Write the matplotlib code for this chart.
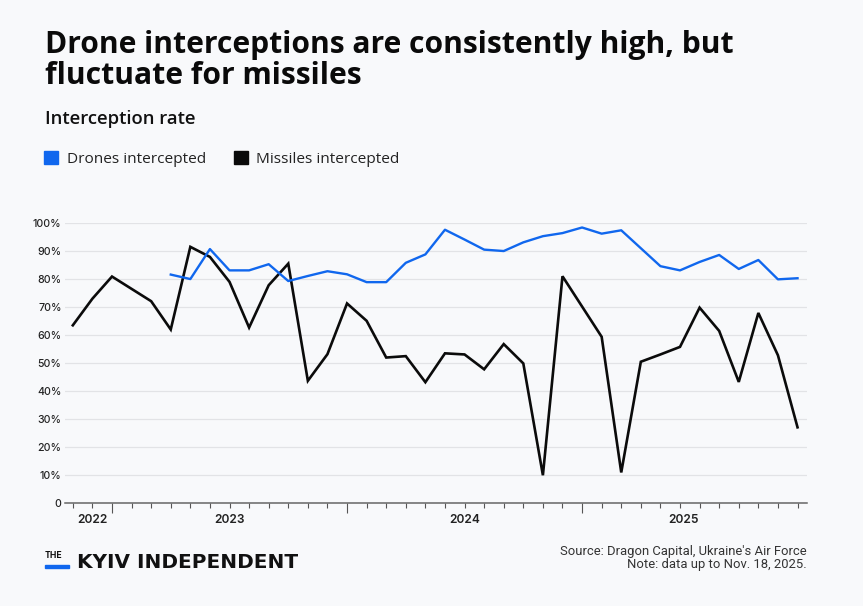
import numpy as np
import pandas as pd
import matplotlib
matplotlib.use("Agg")
import matplotlib.pyplot as plt
from matplotlib.patches import Rectangle

# meses (fin de mes) desde oct 2022 hasta nov 2025
meses = pd.period_range("2022-10", "2025-11", freq="M")

misiles = [63.5, 73.0, 80.9, 76.5, 72.1, 62.0, 91.5, 87.9, 79.0, 62.7,
           77.8, 85.5, 43.7, 53.2, 71.3, 65.1, 52.0, 52.5, 43.2, 53.5,
           53.1, 47.8, 56.8, 49.9, 10.0, 81.0, 70.2, 59.4, 11.0, 50.5,
           53.1, 55.8, 69.8, 61.5, 43.3, 67.9, 52.8, 27.1]

# drones sin dato los primeros 5 meses
drones = [np.nan] * 5 + [81.6, 80.0, 90.7, 83.1, 83.1, 85.3, 79.3, 81.1, 82.8, 81.7,
                         78.9, 78.9, 85.8, 88.8, 97.6, 94.1, 90.5, 90.0, 93.1, 95.3,
                         96.4, 98.4, 96.2, 97.4, 91.0, 84.6, 83.1, 86.1, 88.6, 83.6,
                         86.8, 79.9, 80.3]

anios = ["2022", "2023", "2024", "2025"]
pos_anios = [1.0, 8.0, 20.0, 31.2]

fondo = "#f8f9fb"
azul = "#1067ee"
letra = "Open Sans"

fig = plt.figure(figsize=(8.63, 6.06), dpi=100, facecolor=fondo)
ax = fig.add_axes([0.0753, 0.1695, 0.8595, 0.4625], facecolor=fondo)

x = np.arange(len(meses))
ax.plot(x, misiles, color="#0b0b0b", lw=1.9, solid_joinstyle="miter", zorder=3)
ax.plot(x, drones, color=azul, lw=1.7, zorder=4)

ax.set_xlim(-0.4, 37.47)
ax.set_ylim(0, 100)

ax.set_yticks(range(0, 101, 10))
ax.set_yticklabels(["0"] + [f"{v}%" for v in range(10, 101, 10)],
                   fontsize=7.6, color="#222222", family="Inter", fontweight="medium")
ax.tick_params(axis="y", length=0, pad=2.5)
ax.grid(axis="y", color="#e2e3e6", lw=0.9, zorder=0)

# ticks mensuales y cambios de año
ax.set_xticks(x, minor=True)
ax.set_xticks([i for i, m in enumerate(meses) if m.month == 12])
ax.set_xticklabels([])
ax.tick_params(axis="x", which="minor", length=3.8, width=0.8, color="#555555")
ax.tick_params(axis="x", which="major", length=7.5, width=0.8, color="#555555")

for s in ["top", "right", "left"]:
    ax.spines[s].set_visible(False)
ax.spines["bottom"].set_color("#666666")
ax.spines["bottom"].set_linewidth(1.1)

for etiqueta, p in zip(anios, pos_anios):
    ax.text(p, -0.06, etiqueta, transform=ax.get_xaxis_transform(), ha="center", va="center",
            fontsize=8.6, fontweight="semibold", family="Inter", color="#222222")

# titulo y subtitulo
fig.text(45 / 863, 1 - 53 / 606, "Drone interceptions are consistently high, but",
         fontsize=21.6, fontweight="bold", family=letra, color="#0a0a0a", va="baseline")
fig.text(45 / 863, 1 - 84 / 606, "fluctuate for missiles",
         fontsize=21.6, fontweight="bold", family=letra, color="#0a0a0a", va="baseline")
fig.text(45 / 863, 1 - 124 / 606, "Interception rate",
         fontsize=13.3, fontweight="semibold", family=letra, color="#111111", va="baseline")

# leyenda
fig.patches.append(Rectangle((44.3 / 863, 1 - 164.3 / 606), 13.4 / 863, 13.3 / 606,
                             transform=fig.transFigure, color=azul))
fig.text(66.7 / 863, 1 - 163.3 / 606, "Drones intercepted", fontsize=11.1,
         family=letra, color="#222222", va="baseline")
fig.patches.append(Rectangle((234.3 / 863, 1 - 164.3 / 606), 13.4 / 863, 13.3 / 606,
                             transform=fig.transFigure, color="#0a0a0a"))
fig.text(256 / 863, 1 - 163.3 / 606, "Missiles intercepted", fontsize=11.1,
         family=letra, color="#222222", va="baseline")

# logo
fig.text(45 / 863, 1 - 558.5 / 606, "THE", fontsize=6.2, fontweight="bold",
         family="Inter", color="#111111", va="baseline")
fig.patches.append(Rectangle((45 / 863, 1 - 567.7 / 606), 24 / 863, 2.8 / 606,
                             transform=fig.transFigure, color=azul))
fig.text(77 / 863, 1 - 567.5 / 606, "KYIV INDEPENDENT", fontsize=14.4, fontweight="bold",
         family="DejaVu Sans", color="#111111", va="baseline")

# fuente
fig.text(807 / 863, 1 - 555 / 606, "Source: Dragon Capital, Ukraine's Air Force",
         fontsize=9.4, family="Roboto", color="#333333", ha="right", va="baseline")
fig.text(807 / 863, 1 - 568 / 606, "Note: data up to Nov. 18, 2025.",
         fontsize=9.4, family="Roboto", color="#333333", ha="right", va="baseline")

fig.savefig("out.png", dpi=100, facecolor=fondo)
